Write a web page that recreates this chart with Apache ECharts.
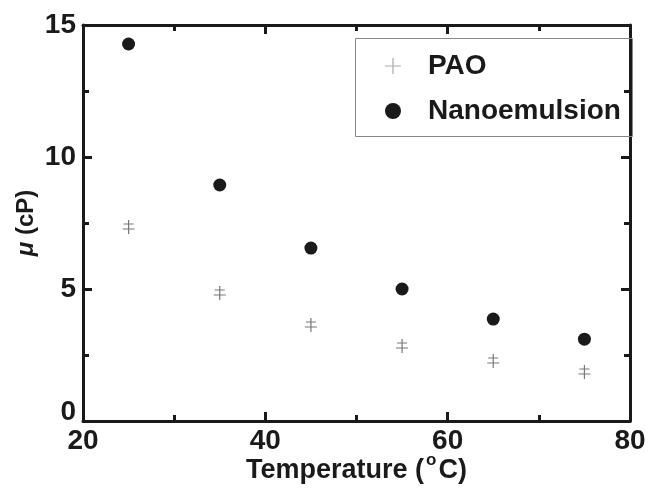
<!DOCTYPE html>
<html><head><meta charset="utf-8">
<script src="https://cdn.jsdelivr.net/npm/echarts@6/dist/echarts.min.js"></script>
<style>html,body{margin:0;padding:0;background:#fff}#c{width:667px;height:493px}</style>
</head><body><div id="c"></div>
<script>
var temperatures = [25, 35, 45, 55, 65, 75];
var paoViscosity = [7.35, 4.85, 3.64, 2.84, 2.27, 1.86];
var nanoViscosity = [14.28, 8.94, 6.55, 5.0, 3.86, 3.1];
var seriesNames = ['PAO', 'Nanoemulsion'];

var FONT = '"Liberation Sans", Arial, sans-serif';
var INK = '#1a1a1a';
var chart = echarts.init(document.getElementById('c'));
var pairs = function (xs, ys) { return xs.map(function (x, i) { return [x, ys[i]]; }); };
var paoSymbol = 'path://M5.4,0 h1.2 v14 h-1.2 z M1,3.5 h10 v1 h-10 z M0,8.5 h12 v1 h-12 z';
var plusIcon = 'path://M5.55,0 h0.9 v12 h-0.9 z M0,5.55 h12 v0.9 h-12 z';

var axisCommon = {
  axisLine: { show: true, onZero: false, lineStyle: { color: INK, width: 3 } },
  axisTick: { show: true, inside: true, length: 9, lineStyle: { color: INK, width: 3 } },
  minorTick: { show: true, splitNumber: 2, length: 6, lineStyle: { color: INK, width: 3 } },
  splitLine: { show: false },
  minorSplitLine: { show: false }
};
function ax(extra) { return Object.assign({}, JSON.parse(JSON.stringify(axisCommon)), extra); }
var tickLabel = { fontFamily: FONT, fontWeight: 'bold', fontSize: 28, color: INK };

chart.setOption({
  backgroundColor: '#fff',
  animation: false,
  grid: { left: 83, right: 37, top: 25, bottom: 72, outerBoundsMode: 'none', containLabel: false },
  xAxis: [
    ax({ type: 'value', position: 'bottom', min: 20, max: 80, interval: 20,
      axisLabel: Object.assign({ margin: 6 }, tickLabel),
      name: '{a|Temperature (}{s|o}{a|C)}', nameLocation: 'middle', nameGap: 33, nameMoveOverlap: false,
      nameTextStyle: { rich: {
        a: { fontFamily: FONT, fontWeight: 'bold', fontSize: 27, color: INK, lineHeight: 30, verticalAlign: 'bottom' },
        s: { fontFamily: FONT, fontWeight: 'bold', fontSize: 17, color: INK, lineHeight: 17, verticalAlign: 'bottom', padding: [0, 2, 15, 2] }
      } } }),
    ax({ type: 'value', position: 'top', min: 20, max: 80, interval: 20, axisLabel: { show: false } })
  ],
  yAxis: [
    ax({ type: 'value', position: 'left', min: 0, max: 15, interval: 5,
      axisLabel: Object.assign({ margin: 7,
        formatter: function (v) { return v === 0 ? '{z|0}' : String(v); },
        rich: { z: { fontFamily: FONT, fontWeight: 'bold', fontSize: 28, color: INK, padding: [0, 0, 18, 0] } }
      }, tickLabel),
      name: '{i|μ}{a| (cP)}', nameLocation: 'middle', nameGap: 45, nameRotate: 90, nameMoveOverlap: false,
      nameTextStyle: { rich: {
        i: { fontFamily: FONT, fontStyle: 'italic', fontWeight: 'bold', fontSize: 24, color: INK },
        a: { fontFamily: FONT, fontWeight: 'bold', fontSize: 24, color: INK }
      } } }),
    ax({ type: 'value', position: 'right', min: 0, max: 15, interval: 5, axisLabel: { show: false } })
  ],
  legend: {
    orient: 'vertical', left: 380, top: 47, itemGap: 17, itemWidth: 16, itemHeight: 16,
    textStyle: { fontFamily: FONT, fontWeight: 'bold', fontSize: 28, color: INK, padding: [0, 0, 0, 22] },
    data: [
      { name: seriesNames[0], icon: plusIcon, itemStyle: { color: '#aaa', opacity: 1 } },
      { name: seriesNames[1], icon: 'circle', itemStyle: { color: INK, opacity: 1 } }
    ]
  },
  graphic: [{ type: 'rect', shape: { x: 355.5, y: 38.5, width: 277, height: 98 },
    style: { fill: 'none', stroke: '#888', lineWidth: 1 }, z: 5 }],
  series: [
    { name: seriesNames[0], type: 'scatter', data: pairs(temperatures, paoViscosity),
      symbol: paoSymbol, symbolSize: [12, 14], itemStyle: { color: '#777', opacity: 1 } },
    { name: seriesNames[1], type: 'scatter', data: pairs(temperatures, nanoViscosity),
      symbol: 'circle', symbolSize: 13, itemStyle: { color: INK, opacity: 1 } }
  ]
});
</script></body></html>
